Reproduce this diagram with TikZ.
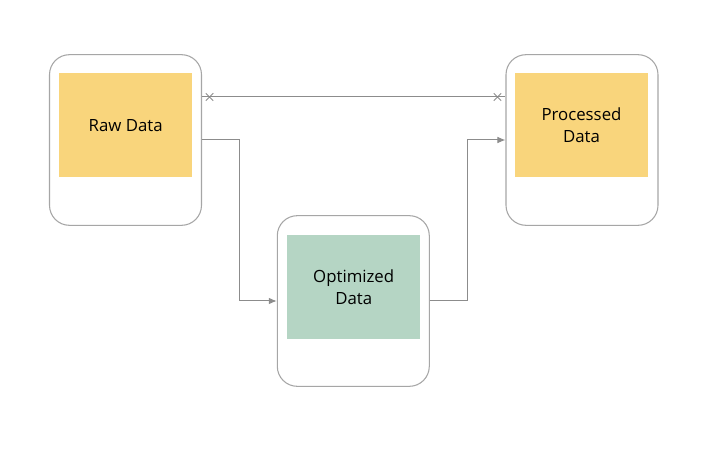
\documentclass[tikz,border=0pt]{standalone}
\usepackage{fontspec}
\setmainfont{Open Sans}
\usetikzlibrary{arrows.meta,shapes.misc,calc}
\definecolor{frame}{HTML}{A6A6A6}
\definecolor{wire}{HTML}{8C8C8C}
\definecolor{yel}{HTML}{F9D57C}
\definecolor{grn}{HTML}{B5D5C4}
\tikzset{
  outer/.style={draw=frame, line width=0.8pt, rounded corners=15pt, fill=white, minimum width=114pt, minimum height=128pt, inner sep=0pt},
  inner/.style={minimum width=100pt, minimum height=78pt, inner sep=0pt, align=center, font=\fontsize{12.6}{16.5}\selectfont, text=black},
  wirestyle/.style={draw=wire, line width=0.75pt},
  arr/.style={wirestyle, -{Latex[length=6pt,width=5pt]}},
  xmark/.style={draw=wire, cross out, minimum size=5pt, inner sep=0pt, line width=0.6pt}
}
\begin{document}
\begin{tikzpicture}[x=0.75pt,y=-0.75pt]
\useasboundingbox (0,0) rectangle (704,449);
\node[outer] (rawo) at (125.5,140) {};
\node[inner, fill=yel] (raw) at (125.7,125.5) {Raw Data};
\node[outer] (opto) at (353.3,301) {};
\node[inner, fill=grn] (opt) at (353.7,287.2) {Optimized\\Data};
\node[outer] (proco) at (582,140) {};
\node[inner, fill=yel] (proc) at (581.5,125.5) {Processed\\Data};
\coordinate (a1) at ($(rawo.east)+(0,-43)$);
\coordinate (a2) at ($(proco.west)+(0,-43)$);
\draw[wirestyle] (a1) -- (a2);
\node[xmark] (x1) at ($(a1)+(7.5,0)$) {};
\node[xmark] (x2) at ($(a2)+(-8,0)$) {};
\draw[arr] (rawo.east) -| ($(rawo.east)!0.5!(opto.west)$) |- (opto.west);
\draw[arr] (opto.east) -| ($(opto.east)!0.5!(proco.west)$) |- (proco.west);
\end{tikzpicture}
\end{document}
